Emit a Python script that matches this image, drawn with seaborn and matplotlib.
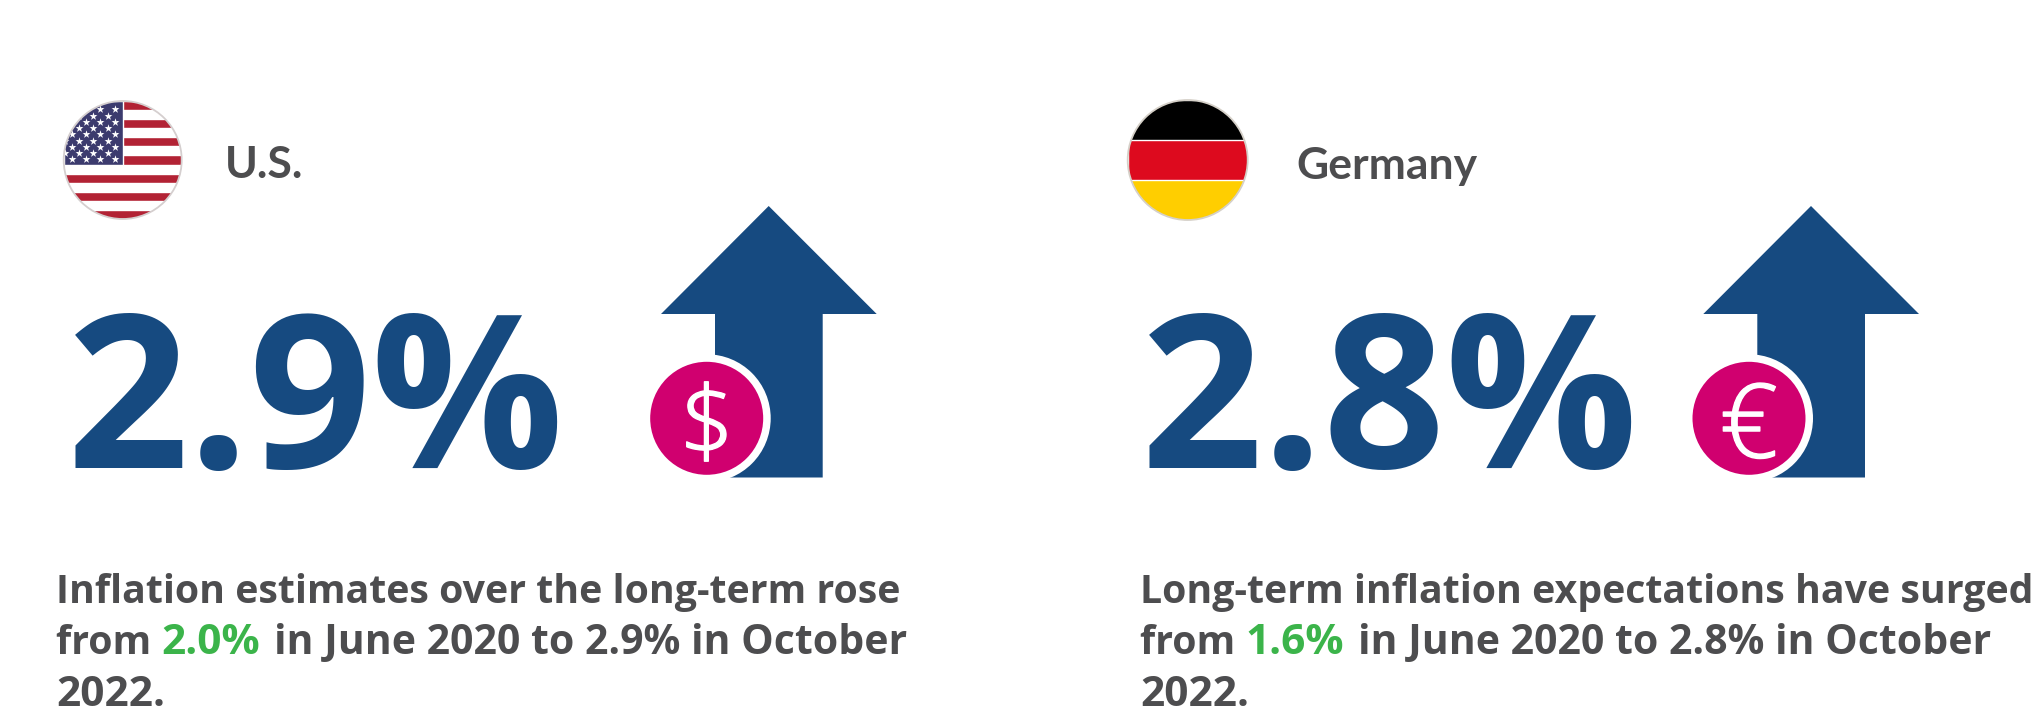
"""
Long-term inflation expectations: U.S. and Germany cards.
"""
import numpy as np
import pandas as pd
import matplotlib
matplotlib.use("Agg")
import matplotlib.pyplot as plt
import matplotlib.patheffects as pe
from matplotlib.patches import Circle, Polygon, Rectangle
import seaborn as sns

COUNTRIES = ["U.S.", "Germany"]
LATEST = ["2.9%", "2.8%"]
EARLIER = ["2.0%", "1.6%"]
CURRENCY = ["$", "€"]
CURRENCY_SIZE = [70, 74]
LINE_ONE = ["Inflation estimates over the long-term rose",
            "Long-term inflation expectations have surged"]
LINE_TWO = ["in June 2020 to 2.9% in October", "in June 2020 to 2.8% in October"]
LINE_THREE = "2022."

BLUE = "#164A80"
PINK = "#D0006F"
GREEN = "#3BB44A"
GREY = "#4D4D4F"
BODY_FONT = ["Open Sans", "DejaVu Sans"]

sns.set_theme(style="white")
plt.rcParams["font.family"] = ["Lato", "DejaVu Sans"]


def text_width(fig, s, **kw):
    """Width in pixels, a bar is added so trailing spaces count."""
    renderer = fig.canvas.get_renderer()
    t = fig.text(0, 0, s + "|", **kw)
    u = fig.text(0, 0, "|", **kw)
    w = t.get_window_extent(renderer).width - u.get_window_extent(renderer).width
    t.remove()
    u.remove()
    return w


def draw_us_flag(ax, cx, cy, r):
    clip = Circle((cx, cy), r, transform=ax.transData)
    ax.add_patch(Circle((cx, cy), r, fc="white", ec="none", zorder=2))
    h = 2 * r / 13
    for i in range(0, 13, 2):
        stripe = Rectangle((cx - r, cy - r + i * h), 2 * r, h, fc="#B22234", zorder=3)
        ax.add_patch(stripe)
        stripe.set_clip_path(clip)
    canton = Rectangle((cx - r, cy - r), r, 7 * h, fc="#3C3B6E", zorder=4)
    ax.add_patch(canton)
    canton.set_clip_path(clip)

    xs, ys = [], []
    for row in range(9):
        y = cy - r + 8.4 + row * 6.25
        offset = 0 if row % 2 == 0 else 7.15
        for col in range(6 if row % 2 == 0 else 5):
            xs.append(cx - 8 - offset - col * 14.3)
            ys.append(y)
    stars = pd.DataFrame({"x": xs, "y": ys})
    sns.scatterplot(data=stars, x="x", y="y", ax=ax, marker="*", s=36, color="white",
                    linewidth=0, zorder=5, legend=False)
    ax.collections[-1].set_clip_path(clip)
    ax.add_patch(Circle((cx, cy), r, fc="none", ec="#D5CFCF", lw=1.3, zorder=6))


def draw_german_flag(ax, cx, cy, r):
    clip = Circle((cx, cy), r, transform=ax.transData)
    ax.add_patch(Circle((cx, cy), r, fc="white", ec="none", zorder=2))
    h = 2 * r / 3 + 0.5
    for i, col in enumerate(["#000000", "#DD0A1E", "#FFCE00"]):
        band = Rectangle((cx - r, cy - r + i * (2 * r / 3)), 2 * r, h, fc=col, zorder=3 + i)
        ax.add_patch(band)
        band.set_clip_path(clip)
    ax.add_patch(Circle((cx, cy), r, fc="none", ec="#D5D0C8", lw=1.3, zorder=6))


def draw_arrow(ax, x0, symbol, size):
    pts = [(x0 + 107.7, 206), (x0 + 215.7, 314), (x0 + 161.7, 314), (x0 + 161.7, 477.5),
           (x0 + 54, 477.5), (x0 + 54, 314), (x0, 314)]
    ax.add_patch(Polygon(pts, closed=True, fc=BLUE, ec="none", zorder=2))
    ax.add_patch(Circle((x0 + 45.7, 418.3), 64, fc="white", ec="none", zorder=3))
    ax.add_patch(Circle((x0 + 45.7, 418.3), 56.5, fc=PINK, ec="none", zorder=4))
    t = ax.text(x0 + 45.7, 418.3, symbol, color="white", fontsize=size, fontweight="light",
                family=BODY_FONT, ha="center", va="center_baseline", zorder=5)
    t.set_path_effects([pe.withStroke(linewidth=1.0, foreground="white")])


def draw_body(fig, ax, x0, line_one, earlier, line_two):
    # digits run wider in the original face, so the number runs get a larger size
    base = dict(fontweight="bold", family=BODY_FONT, va="baseline")
    ax.text(x0, 603, line_one, color=GREY, fontsize=28.3, **base)
    ax.text(x0, 654.5, "from ", color=GREY, fontsize=28.3, **base)
    x = x0 + text_width(fig, "from ", fontsize=28.3, fontweight="bold", family=BODY_FONT)
    ax.text(x, 654.5, earlier, color=GREEN, fontsize=30.5, **base)
    x += text_width(fig, earlier + " ", fontsize=30.5, fontweight="bold", family=BODY_FONT) + 3
    ax.text(x, 654.5, line_two, color=GREY, fontsize=29.5, **base)
    ax.text(x0, 705.5, LINE_THREE, color=GREY, fontsize=30.5, **base)


def main():
    fig = plt.figure(figsize=(20.39, 7.13), dpi=100)
    ax = fig.add_axes([0, 0, 1, 1])
    ax.set_xlim(0, 2039)
    ax.set_ylim(713, 0)
    ax.axis("off")
    fig.canvas.draw()

    draw_us_flag(ax, 122.7, 160, 59)
    draw_german_flag(ax, 1187.7, 160, 60)

    label_x = [225, 1296]
    big_x = [67, 1141]
    arrow_x = [661, 1703.3]
    body_x = [56, 1140]
    for i in range(len(COUNTRIES)):
        ax.text(label_x[i], 178.5, COUNTRIES[i], color=GREY, fontsize=32,
                fontweight="bold", va="baseline")
        ax.text(big_x[i], 468, LATEST[i], color=BLUE, fontsize=154,
                fontweight="bold", family=BODY_FONT, va="baseline")
        draw_arrow(ax, arrow_x[i], CURRENCY[i], CURRENCY_SIZE[i])
        draw_body(fig, ax, body_x[i], LINE_ONE[i], EARLIER[i], LINE_TWO[i])

    fig.savefig("out.png", dpi=100, facecolor="white")
    plt.close()


if __name__ == "__main__":
    main()
